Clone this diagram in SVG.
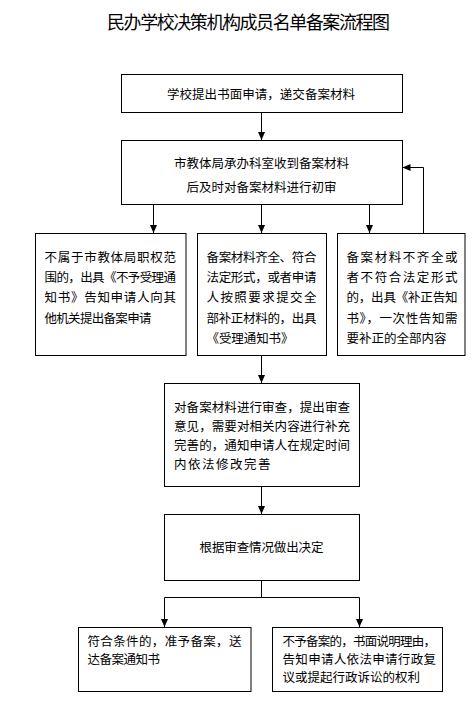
<svg xmlns="http://www.w3.org/2000/svg" width="476" height="708" viewBox="0 0 476 708">
<style>
text{font-family:"Noto Sans CJK SC","Noto Sans",sans-serif;fill:#000;}
.t{font-size:18px;}
.b{font-size:12.5px;}
rect{fill:#fff;stroke:#000;stroke-width:1;}
.c path{fill:none;stroke:#000;stroke-width:1;}
</style>
<defs>
<marker id="ah" markerUnits="userSpaceOnUse" markerWidth="8" markerHeight="8" refX="8" refY="3.5" orient="auto">
<path d="M0,0 L8,3.5 L0,7 z" fill="#000"/>
</marker>
</defs>
<rect x="0" y="0" width="476" height="708" style="stroke:none"/>
<text class="t" x="107" y="29" textLength="283" lengthAdjust="spacing">民办学校决策机构成员名单备案流程图</text>

<g class="c">
<path d="M261.5,112.5 V140" marker-end="url(#ah)"/>
<path d="M153.5,204.5 V233" marker-end="url(#ah)"/>
<path d="M261.5,204.5 V233" marker-end="url(#ah)"/>
<path d="M369.5,204.5 V233" marker-end="url(#ah)"/>
<path d="M423.5,233.5 V167.5 H402.5" marker-end="url(#ah)"/>
<path d="M261.5,355.5 V383" marker-end="url(#ah)"/>
<path d="M261.5,486.5 V514" marker-end="url(#ah)"/>
<path d="M261.5,580.5 V597.5 M164.5,597.5 H359.5"/>
<path d="M164.5,597.5 V627" marker-end="url(#ah)"/>
<path d="M359.5,597.5 V627" marker-end="url(#ah)"/>
</g>

<g id="n1">
<rect x="121.5" y="74.5" width="281" height="38"/>
<text class="b" x="167" y="99" textLength="188" lengthAdjust="spacing">学校提出书面申请，递交备案材料</text>
</g>
<g id="n2">
<rect x="121.5" y="140.5" width="281" height="64"/>
<text class="b" x="174" y="167.5" textLength="175" lengthAdjust="spacing">市教体局承办科室收到备案材料</text>
<text class="b" x="186.5" y="191.5" textLength="150" lengthAdjust="spacing">后及时对备案材料进行初审</text>
</g>
<g id="n3">
<rect x="35.5" y="233.5" width="150.5" height="122"/>
<text class="b" x="44.5" y="261.5" textLength="131.5" lengthAdjust="spacing">不属于市教体局职权范</text>
<text class="b" x="44.5" y="282" textLength="131.5" lengthAdjust="spacing">围的，出具《不予受理通</text>
<text class="b" x="44.5" y="302" textLength="131.5" lengthAdjust="spacing">知书》告知申请人向其</text>
<text class="b" x="44.5" y="322.5" textLength="107" lengthAdjust="spacing">他机关提出备案申请</text>
</g>
<g id="n4">
<rect x="197.5" y="233.5" width="129" height="122"/>
<text class="b" x="206.5" y="261.5" textLength="110" lengthAdjust="spacing">备案材料齐全、符合</text>
<text class="b" x="206.5" y="282" textLength="110" lengthAdjust="spacing">法定形式，或者申请</text>
<text class="b" x="206.5" y="302" textLength="110" lengthAdjust="spacing">人按照要求提交全</text>
<text class="b" x="206.5" y="322.5" textLength="110" lengthAdjust="spacing">部补正材料的，出具</text>
<text class="b" x="206.5" y="342.5" textLength="87" lengthAdjust="spacing">《受理通知书》</text>
</g>
<g id="n5">
<rect x="337.5" y="233.5" width="127.5" height="122"/>
<text class="b" x="346.5" y="261.5" textLength="111" lengthAdjust="spacing">备案材料不齐全或</text>
<text class="b" x="346.5" y="282" textLength="111" lengthAdjust="spacing">者不符合法定形式</text>
<text class="b" x="346.5" y="302" textLength="111" lengthAdjust="spacing">的，出具《补正告知</text>
<text class="b" x="346.5" y="322.5" textLength="111" lengthAdjust="spacing">书》，一次性告知需</text>
<text class="b" x="346.5" y="342.5" textLength="100" lengthAdjust="spacing">要补正的全部内容</text>
</g>
<g id="n6">
<rect x="164.5" y="383.5" width="195" height="103"/>
<text class="b" x="174" y="411.5" textLength="176" lengthAdjust="spacing">对备案材料进行审查，提出审查</text>
<text class="b" x="174" y="431" textLength="176" lengthAdjust="spacing">意见，需要对相关内容进行补充</text>
<text class="b" x="174" y="450" textLength="176" lengthAdjust="spacing">完善的，通知申请人在规定时间</text>
<text class="b" x="174" y="468.5" textLength="96.5" lengthAdjust="spacing">内依法修改完善</text>
</g>
<g id="n7">
<rect x="164.5" y="514.5" width="195" height="66"/>
<text class="b" x="199.5" y="551.5" textLength="124" lengthAdjust="spacing">根据审查情况做出决定</text>
</g>
<g id="n8">
<rect x="78.5" y="627.5" width="172.5" height="64"/>
<text class="b" x="87.5" y="645.5" textLength="154" lengthAdjust="spacing">符合条件的，准予备案，送</text>
<text class="b" x="87.5" y="663.5" textLength="72.5" lengthAdjust="spacing">达备案通知书</text>
</g>
<g id="n9">
<rect x="272.5" y="627.5" width="170" height="64"/>
<text class="b" x="282.5" y="645.5" textLength="153.5" lengthAdjust="spacing">不予备案的，书面说明理由，</text>
<text class="b" x="282.5" y="664" textLength="153.5" lengthAdjust="spacing">告知申请人依法申请行政复</text>
<text class="b" x="282.5" y="681.5" textLength="137.5" lengthAdjust="spacing">议或提起行政诉讼的权利</text>
</g>
</svg>
